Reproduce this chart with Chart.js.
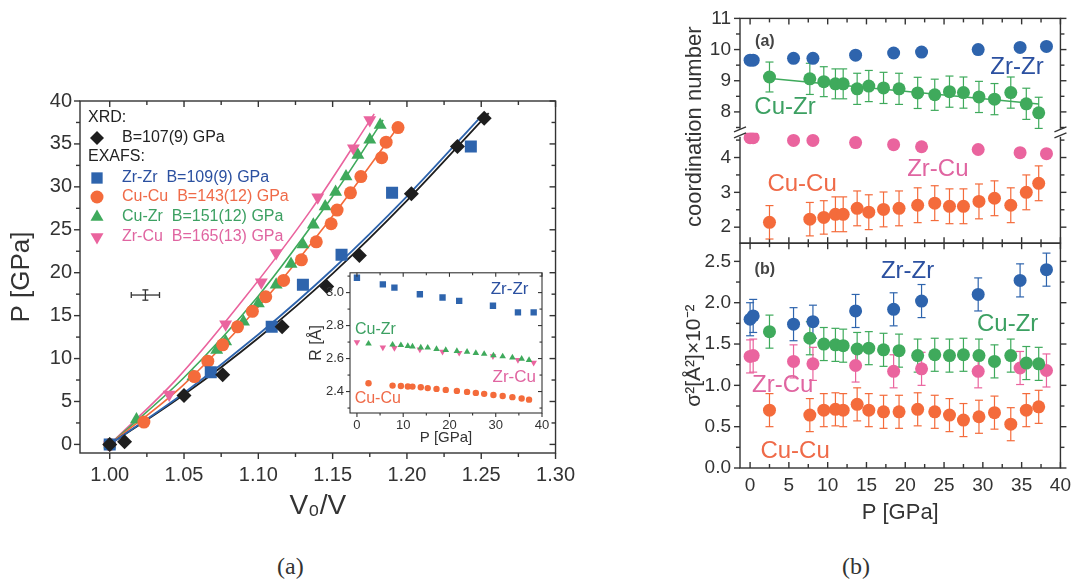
<!DOCTYPE html>
<html>
<head>
<meta charset="utf-8">
<script src="https://cdn.jsdelivr.net/npm/chart.js@4.4.1/dist/chart.umd.min.js"></script>
<style>
  html, body { margin: 0; padding: 0; background: #fff; }
  body { width: 1077px; height: 588px; position: relative; overflow: hidden; }
  canvas { position: absolute; }
  #eos { left: 0; top: 81px; }
  #inset { left: 300px; top: 259px; }
  #coord { left: 630px; top: -2px; }
  .cap { position: absolute; top: 553px; font: 24px "Liberation Serif", "DejaVu Serif", serif; color: #333; }
</style>
</head>
<body>
<canvas id="eos" width="585" height="459"></canvas>
<canvas id="inset" width="260" height="193"></canvas>
<canvas id="coord" width="447" height="542"></canvas>
<div class="cap" style="left:277px">(a)</div>
<div class="cap" style="left:842px">(b)</div>
<script>
// ---- equation of state, V0/V vs P ----
const xrdX  = [1.000, 1.010, 1.050, 1.076, 1.116, 1.146, 1.168, 1.203, 1.234, 1.252];
const xrdP  = [0, 0.3, 5.7, 8.1, 13.7, 18.4, 22.0, 29.2, 34.7, 38.0];
const zrzrX = [1.000, 1.068, 1.109, 1.130, 1.156, 1.190, 1.243];
const zrzrP = [0, 8.4, 13.7, 18.6, 22.1, 29.3, 34.7];
const cucuX = [1.000, 1.023, 1.057, 1.066, 1.076, 1.086, 1.096, 1.105, 1.117, 1.129, 1.139, 1.149, 1.153, 1.162, 1.169, 1.183, 1.186, 1.194];
const cucuP = [0, 2.6, 7.9, 9.7, 11.6, 13.7, 15.5, 17.2, 19.1, 21.5, 23.6, 25.7, 27.3, 29.3, 31.2, 33.4, 35.2, 36.9];
const cuzrX = [1.000, 1.018, 1.056, 1.072, 1.078, 1.090, 1.100, 1.112, 1.122, 1.130, 1.137, 1.145, 1.152, 1.159, 1.167, 1.175, 1.182];
const cuzrP = [0, 2.9, 7.9, 11.0, 12.0, 14.3, 16.4, 18.6, 21.0, 23.3, 25.6, 27.7, 29.4, 31.2, 33.7, 35.5, 37.2];
const zrcuX = [1.000, 1.040, 1.078, 1.102, 1.112, 1.140, 1.164, 1.175];
const zrcuP = [0, 5.8, 14.0, 18.9, 22.3, 28.8, 34.5, 37.8];

// fitted curves
const fitXrdX  = [1.000, 1.050, 1.100, 1.150, 1.200, 1.255];
const fitXrdP  = [0, 5.8, 12.4, 19.9, 28.4, 38.6];
const fitZrZrX = [1.000, 1.050, 1.100, 1.150, 1.200, 1.252];
const fitZrZrP = [0, 6.0, 12.8, 20.4, 28.9, 38.6];
const fitCuCuX = [1.000, 1.050, 1.105, 1.150, 1.195];
const fitCuCuP = [0, 7.0, 17.0, 26.6, 37.2];
const fitCuZrX = [1.000, 1.050, 1.100, 1.150, 1.184];
const fitCuZrP = [0, 7.8, 17.3, 28.9, 37.8];
const fitZrCuX = [1.000, 1.045, 1.090, 1.135, 1.178];
const fitZrCuP = [0, 7.6, 16.9, 27.2, 38.5];

// typical uncertainty cross
const errX = [1.024], errP = [17.4], errDX = [0.0095], errDP = [0.6];

const legendText = ['XRD:', 'B=107(9) GPa', 'EXAFS:', 'Zr-Zr  B=109(9) GPa',
                    'Cu-Cu  B=143(12) GPa', 'Cu-Zr  B=151(12) GPa', 'Zr-Cu  B=165(13) GPa'];

// ---- inset: bond lengths R vs P ----
const inPZr   = [0, 5.6, 8.1, 13.6, 18.5, 22.1, 29.4, 34.8, 38.2];
const inRZrZr = [3.09, 3.05, 3.03, 2.99, 2.97, 2.95, 2.92, 2.88, 2.88];
const inRZrCu = [2.70, 2.667, 2.665, 2.655, 2.642, 2.635, 2.615, 2.592, 2.575];
const inPCu   = [2.5, 7.7, 9.5, 11.0, 12.0, 13.8, 15.3, 17.2, 19.2, 21.6, 23.8, 25.7, 27.5, 29.5, 31.5, 33.6, 35.6, 37.2];
const inRCuZr = [2.69, 2.684, 2.681, 2.676, 2.673, 2.667, 2.666, 2.658, 2.652, 2.646, 2.641, 2.633, 2.628, 2.619, 2.613, 2.606, 2.598, 2.591];
const inRCuCu = [2.45, 2.436, 2.434, 2.431, 2.43, 2.426, 2.421, 2.416, 2.41, 2.404, 2.398, 2.392, 2.386, 2.379, 2.373, 2.366, 2.358, 2.351];

// ---- coordination numbers and sigma^2 vs P ----
const pZr    = [0, 0.4, 5.6, 8.1, 13.6, 18.5, 22.1, 29.4, 34.8, 38.2];
const cnZrZr = [9.66, 9.66, 9.72, 9.72, 9.82, 9.89, 9.92, 10.0, 10.07, 10.1];
const cnZrCu = [4.57, 4.57, 4.49, 4.49, 4.43, 4.37, 4.31, 4.23, 4.14, 4.11];
const pCu    = [2.5, 7.7, 9.5, 11.0, 12.0, 13.8, 15.3, 17.2, 19.2, 21.6, 23.8, 25.7, 27.5, 29.5, 31.5, 33.6, 35.6, 37.2];
const cnCuZr = [9.12, 9.06, 8.97, 8.9, 8.9, 8.74, 8.83, 8.77, 8.74, 8.61, 8.55, 8.65, 8.62, 8.48, 8.41, 8.62, 8.26, 7.97];
const cnCuZrErr = [0.48, 0.5, 0.48, 0.48, 0.48, 0.5, 0.5, 0.5, 0.5, 0.5, 0.5, 0.5, 0.5, 0.5, 0.5, 0.5, 0.5, 0.5];
const cnCuCu = [2.14, 2.23, 2.28, 2.37, 2.37, 2.54, 2.43, 2.51, 2.54, 2.63, 2.69, 2.6, 2.6, 2.74, 2.83, 2.63, 3.0, 3.26];
const cnCuCuErr = [0.48, 0.48, 0.48, 0.5, 0.5, 0.5, 0.5, 0.5, 0.5, 0.5, 0.5, 0.5, 0.5, 0.5, 0.5, 0.5, 0.5, 0.5];
const fitCnP  = [2.3, 37.2];
const fitCnCuZr = [9.08, 8.25];

const s2ZrZr = [1.80, 1.84, 1.74, 1.77, 1.90, 1.92, 2.02, 2.10, 2.27, 2.40];
const s2ZrCu = [1.35, 1.36, 1.29, 1.26, 1.24, 1.17, 1.20, 1.17, 1.21, 1.18];
const s2CuZr = [1.65, 1.57, 1.50, 1.49, 1.48, 1.44, 1.45, 1.43, 1.42, 1.36, 1.37, 1.36, 1.37, 1.36, 1.29, 1.36, 1.27, 1.26];
const s2CuCu = [0.70, 0.64, 0.70, 0.71, 0.70, 0.77, 0.70, 0.68, 0.68, 0.71, 0.68, 0.64, 0.58, 0.62, 0.67, 0.53, 0.70, 0.74];
const s2ErrZr = [0.2, 0.2, 0.2, 0.2, 0.2, 0.2, 0.2, 0.2, 0.2, 0.2];
const s2ErrCu = [0.2, 0.2, 0.2, 0.2, 0.2, 0.2, 0.2, 0.2, 0.2, 0.2, 0.2, 0.2, 0.2, 0.2, 0.2, 0.2, 0.2, 0.2];

Chart.defaults.font.family = '"Liberation Sans", Arial, Helvetica, sans-serif';
Chart.defaults.color = '#333';

const INK = '#333';
const BLUE = '#2e64ad', BLUE_TXT = '#2b50a0';
const ORANGE = '#f46b3b', ORANGE_TXT = '#ef6a48';
const GREEN = '#3faa5c', GREEN_TXT = '#3ca062';
const PINK = '#ea649e', PINK_TXT = '#e065a1';
const BLACK = '#1e1e1e';

function onStep(v, step) { return Math.abs(v / step - Math.round(v / step)) < 1e-6; }
function pts(xs, ys) { return xs.map((x, i) => ({ x: x, y: ys[i] })); }

function axis(o) {
  return {
    type: 'linear', position: o.position, min: o.min, max: o.max,
    stack: o.stack, stackWeight: o.weight,
    grid: { display: false, drawTicks: false },
    border: { display: false },
    ticks: {
      stepSize: o.step, autoSkip: false, includeBounds: false, maxRotation: 0,
      padding: o.pad, color: INK, font: { size: o.font },
      callback: v => onStep(v, o.major) ? v.toFixed(o.dec) : ''
    },
    title: o.title ? { display: true, text: o.title, color: INK, font: { size: o.titleSize }, padding: o.titlePad } : { display: false },
    afterFit: s => { if (s.isHorizontal()) s.height = o.size; else s.width = o.size; }
  };
}

function marks(xs, ys, style, r, color, extra) {
  return Object.assign({ data: pts(xs, ys), pointStyle: style, pointRadius: r, backgroundColor: color,
    borderColor: color, borderWidth: 0, order: 1 }, extra || {});
}
function curve(xs, ys, color, w, extra) {
  return Object.assign({ data: pts(xs, ys), showLine: true, borderColor: color, borderWidth: w, pointRadius: 0,
    tension: 0.35, order: 5 }, extra || {});
}

function seg(ctx, x1, y1, x2, y2) { ctx.beginPath(); ctx.moveTo(x1, y1); ctx.lineTo(x2, y2); ctx.stroke(); }

// white plot background plus a closed frame with ticks on all four sides
const boxFrame = {
  id: 'boxFrame',
  beforeDraw(chart, args, o) {
    if (!o.fill) return;
    const a = chart.chartArea, ctx = chart.ctx;
    ctx.save(); ctx.fillStyle = o.fill; ctx.fillRect(a.left, a.top, a.right - a.left, a.bottom - a.top); ctx.restore();
  },
  afterDraw(chart, args, o) {
    const ctx = chart.ctx, xs = chart.scales.x, L = xs.left, R = xs.right;
    ctx.save();
    ctx.strokeStyle = o.color; ctx.lineWidth = o.width;
    o.boxes.forEach((ids, i) => {
      const T = chart.scales[ids[0]].top, B = chart.scales[ids[ids.length - 1]].bottom;
      ctx.strokeRect(L, T, R - L, B - T);
      const last = i === o.boxes.length - 1;
      xs.ticks.forEach(t => {
        const px = xs.getPixelForValue(t.value), len = t.label !== '' ? o.major : o.minor;
        seg(ctx, px, T, px, T + len);
        seg(ctx, px, B, px, (last && o.bottomOut) ? B + len : B - len);
      });
      ids.forEach(id => {
        const s = chart.scales[id];
        s.ticks.forEach(t => {
          const py = s.getPixelForValue(t.value), len = t.label !== '' ? o.major : o.minor;
          seg(ctx, L, py, o.leftOut ? L - len : L + len, py);
          seg(ctx, R, py, o.rightOut ? R + len : R - len, py);
        });
      });
    });
    ctx.restore();
  }
};

// vertical / horizontal error bars taken from dataset.yErr / dataset.xErr
const errorBars = {
  id: 'errorBars',
  beforeDatasetsDraw(chart) {
    const ctx = chart.ctx;
    chart.data.datasets.forEach((ds, i) => {
      if (!ds.yErr && !ds.xErr) return;
      const meta = chart.getDatasetMeta(i);
      const xs = chart.scales[meta.xAxisID], ys = chart.scales[meta.yAxisID];
      const cap = ds.errCap || 4;
      ctx.save();
      ctx.strokeStyle = ds.errColor || ds.borderColor; ctx.lineWidth = ds.errWidth || 1.2;
      ds.data.forEach((p, j) => {
        const px = xs.getPixelForValue(p.x), py = ys.getPixelForValue(p.y);
        if (ds.yErr) {
          const a = ys.getPixelForValue(p.y + ds.yErr[j]), b = ys.getPixelForValue(p.y - ds.yErr[j]);
          seg(ctx, px, a, px, b); seg(ctx, px - cap, a, px + cap, a); seg(ctx, px - cap, b, px + cap, b);
        }
        if (ds.xErr) {
          const a = xs.getPixelForValue(p.x - ds.xErr[j]), b = xs.getPixelForValue(p.x + ds.xErr[j]);
          seg(ctx, a, py, b, py); seg(ctx, a, py - cap, a, py + cap); seg(ctx, b, py - cap, b, py + cap);
        }
      });
      ctx.restore();
    });
  }
};

// series names written next to the data, placed in data coordinates
const textMarks = {
  id: 'textMarks',
  afterDraw(chart, args, o) {
    const ctx = chart.ctx;
    ctx.save();
    ctx.textAlign = 'center'; ctx.textBaseline = 'middle';
    (o.items || []).forEach(it => {
      const px = chart.scales[it.xAxis || 'x'].getPixelForValue(it.x);
      const py = chart.scales[it.yAxis || 'y'].getPixelForValue(it.y);
      ctx.font = (it.bold ? 'bold ' : '') + it.size + 'px ' + Chart.defaults.font.family;
      ctx.fillStyle = it.color;
      ctx.fillText(it.text, px, py);
    });
    ctx.restore();
  }
};

// legend of the V0/V panel, with XRD / EXAFS headings
const eosLegend = {
  id: 'eosLegend',
  afterDraw(chart, args, o) {
    if (!o.rows) return;
    const ctx = chart.ctx, a = chart.chartArea;
    ctx.save();
    ctx.textBaseline = 'middle'; ctx.textAlign = 'left';
    ctx.font = '16px ' + Chart.defaults.font.family;
    o.rows.forEach(r => {
      const y = a.top + r.dy;
      if (r.style) {
        ctx.fillStyle = r.color;
        Chart.helpers.drawPoint(ctx, { pointStyle: r.style, rotation: r.rot || 0, radius: r.r, borderWidth: 0 }, a.left + 17, y);
        ctx.fillStyle = r.tcolor;
        ctx.fillText(r.text, a.left + 42, y);
      } else {
        ctx.fillStyle = '#222';
        ctx.fillText(r.text, a.left + 8, y);
      }
    });
    ctx.restore();
  }
};

// axis break marks and the shared rotated titles of the right-hand panel
const axisBreak = {
  id: 'axisBreak',
  afterDraw(chart, args, o) {
    if (!o.above) return;
    const ctx = chart.ctx, y = chart.scales[o.above].bottom, xs = chart.scales.x;
    ctx.save();
    [xs.left, xs.right].forEach(x => {
      ctx.fillStyle = '#fff'; ctx.fillRect(x - 2, y - 4, 4, 8);
      ctx.strokeStyle = INK; ctx.lineWidth = 1.3;
      seg(ctx, x - 6, y - 1, x + 6, y - 6);
      seg(ctx, x - 6, y + 5, x + 6, y);
    });
    ctx.restore();
  }
};
const sideTitles = {
  id: 'sideTitles',
  afterDraw(chart, args, o) {
    if (!o.items) return;
    const ctx = chart.ctx;
    o.items.forEach(it => {
      const top = chart.scales[it.from].top, bottom = chart.scales[it.to].bottom;
      ctx.save();
      ctx.translate(chart.chartArea.left - it.dx, (top + bottom) / 2 + (it.dy || 0));
      ctx.rotate(-Math.PI / 2);
      ctx.font = it.size + 'px ' + Chart.defaults.font.family;
      ctx.fillStyle = INK; ctx.textAlign = 'center'; ctx.textBaseline = 'middle';
      ctx.fillText(it.text, 0, 0);
      ctx.restore();
    });
  }
};

const common = { responsive: false, animation: false, devicePixelRatio: 1, events: [] };

// left panel: P against V0/V
new Chart(document.getElementById('eos'), {
  type: 'scatter',
  data: {
    datasets: [
      curve(fitZrZrX, fitZrZrP, BLUE, 1.8),
      curve(fitXrdX, fitXrdP, BLACK, 1.8),
      curve(fitCuCuX, fitCuCuP, ORANGE, 1.6),
      curve(fitCuZrX, fitCuZrP, GREEN, 1.6),
      curve(fitZrCuX, fitZrCuP, PINK, 1.6),
      marks(zrzrX, zrzrP, 'rect', 8.5, BLUE),
      marks(cucuX, cucuP, 'circle', 6.5, ORANGE),
      marks(cuzrX, cuzrP, 'triangle', 7.5, GREEN),
      marks(zrcuX, zrcuP, 'triangle', 7.5, PINK, { pointRotation: 180 }),
      marks(xrdX, xrdP, 'rectRot', 7.5, BLACK, { order: 0 }),
      { data: pts(errX, errP), pointRadius: 0, xErr: errDX, yErr: errDP, errColor: INK, errCap: 3, errWidth: 1.3, borderColor: INK }
    ]
  },
  options: Object.assign({}, common, {
    layout: { padding: { top: 0, right: 27, left: 0, bottom: 0 } },
    plugins: {
      legend: { display: false }, tooltip: { enabled: false },
      boxFrame: { boxes: [['y']], color: INK, width: 1.4, major: 6, minor: 4, leftOut: true, bottomOut: true, rightOut: false },
      eosLegend: { rows: [
        { dy: 17, text: legendText[0] },
        { dy: 37, style: 'rectRot', r: 7, color: BLACK, text: legendText[1], tcolor: '#222' },
        { dy: 56, text: legendText[2] },
        { dy: 77, style: 'rect', r: 8, color: BLUE, text: legendText[3], tcolor: BLUE_TXT },
        { dy: 96, style: 'circle', r: 6.5, color: ORANGE, text: legendText[4], tcolor: ORANGE_TXT },
        { dy: 116, style: 'triangle', r: 7.5, color: GREEN, text: legendText[5], tcolor: GREEN_TXT },
        { dy: 136, style: 'triangle', rot: 180, r: 7.5, color: PINK, text: legendText[6], tcolor: PINK_TXT }
      ] }
    },
    scales: {
      x: axis({ position: 'bottom', min: 0.98, max: 1.30, step: 0.025, major: 0.05, dec: 2, pad: 10, font: 20,
                title: 'V\u2080/V', titleSize: 28, titlePad: { top: 0, bottom: 17 }, size: 87 }),
      y: axis({ position: 'left', min: -1, max: 40, step: 2.5, major: 5, dec: 0, pad: 8, font: 20,
                title: 'P [GPa]', titleSize: 26, titlePad: { top: 6, bottom: 0 }, size: 80 })
    }
  }),
  plugins: [errorBars, boxFrame, eosLegend]
});

// inset: nearest-neighbour distances
new Chart(document.getElementById('inset'), {
  type: 'scatter',
  data: {
    datasets: [
      marks(inPZr, inRZrZr, 'rect', 4.5, BLUE),
      marks(inPCu, inRCuZr, 'triangle', 3.8, GREEN),
      marks(inPZr, inRZrCu, 'triangle', 3.8, PINK, { pointRotation: 180 }),
      marks(inPCu, inRCuCu, 'circle', 3.2, ORANGE)
    ]
  },
  options: Object.assign({}, common, {
    layout: { padding: { top: 0, right: 18, left: 0, bottom: 0 } },
    plugins: {
      legend: { display: false }, tooltip: { enabled: false },
      boxFrame: { boxes: [['y']], fill: '#fff', color: INK, width: 1.1, major: 4, minor: 2.5, leftOut: true, bottomOut: true, rightOut: false },
      textMarks: { items: [
        { x: 33, y: 3.02, text: 'Zr-Zr', color: BLUE_TXT, size: 17 },
        { x: 4.0, y: 2.775, text: 'Cu-Zr', color: GREEN_TXT, size: 16 },
        { x: 34, y: 2.485, text: 'Zr-Cu', color: PINK_TXT, size: 17 },
        { x: 4.5, y: 2.36, text: 'Cu-Cu', color: ORANGE_TXT, size: 16 }
      ] }
    },
    scales: {
      x: axis({ position: 'bottom', min: -1.5, max: 40, step: 5, major: 10, dec: 0, pad: 5, font: 13,
                title: 'P [GPa]', titleSize: 15, titlePad: { top: 0, bottom: 5 }, size: 39 }),
      y: axis({ position: 'left', min: 2.27, max: 3.12, step: 0.1, major: 0.2, dec: 1, pad: 6, font: 13,
                title: 'R [\u00c5]', titleSize: 16, titlePad: { top: 7, bottom: 0 }, size: 50 })
    }
  }),
  plugins: [boxFrame, textMarks]
});

// right panel: coordination numbers (top) and sigma^2 (bottom) sharing the pressure axis
const cnDot = 6.5;
new Chart(document.getElementById('coord'), {
  type: 'scatter',
  data: {
    datasets: [
      curve(fitCnP, fitCnCuZr, GREEN, 1.5, { yAxisID: 'yTop', tension: 0 }),
      marks(pZr, cnZrZr, 'circle', cnDot, BLUE, { yAxisID: 'yTop' }),
      marks(pCu, cnCuZr, 'circle', cnDot, GREEN, { yAxisID: 'yTop', yErr: cnCuZrErr }),
      marks(pZr, cnZrCu, 'circle', cnDot, PINK, { yAxisID: 'yMid' }),
      marks(pCu, cnCuCu, 'circle', cnDot, ORANGE, { yAxisID: 'yMid', yErr: cnCuCuErr }),
      marks(pCu, s2CuZr, 'circle', cnDot, GREEN, { yAxisID: 'ySig', yErr: s2ErrCu }),
      marks(pZr, s2ZrCu, 'circle', cnDot, PINK, { yAxisID: 'ySig', yErr: s2ErrZr }),
      marks(pZr, s2ZrZr, 'circle', cnDot, BLUE, { yAxisID: 'ySig', yErr: s2ErrZr }),
      marks(pCu, s2CuCu, 'circle', cnDot, ORANGE, { yAxisID: 'ySig', yErr: s2ErrCu })
    ]
  },
  options: Object.assign({}, common, {
    layout: { padding: { top: 0, right: 15, left: 0, bottom: 0 } },
    plugins: {
      legend: { display: false }, tooltip: { enabled: false },
      boxFrame: { boxes: [['yTop', 'yMid'], ['ySig']], color: INK, width: 1.4, major: 6, minor: 4, leftOut: true, bottomOut: false, rightOut: true },
      axisBreak: { above: 'yTop' },
      sideTitles: { items: [
        { from: 'yTop', to: 'yMid', dx: 45, dy: -4, size: 22, text: 'coordination number' },
        { from: 'ySig', to: 'ySig', dx: 46, dy: 0, size: 21, text: '\u03c3\u00b2[\u00c5\u00b2]\u00d710\u207b\u00b2' }
      ] },
      textMarks: { items: [
        { x: 1.9, y: 10.24, yAxis: 'yTop', text: '(a)', color: '#444', size: 16, bold: true },
        { x: 34.4, y: 9.44, yAxis: 'yTop', text: 'Zr-Zr', color: BLUE_TXT, size: 24 },
        { x: 4.5, y: 8.13, yAxis: 'yTop', text: 'Cu-Zr', color: GREEN_TXT, size: 24 },
        { x: 24.2, y: 3.66, yAxis: 'yMid', text: 'Zr-Cu', color: PINK_TXT, size: 24 },
        { x: 6.7, y: 3.23, yAxis: 'yMid', text: 'Cu-Cu', color: ORANGE_TXT, size: 24 },
        { x: 1.9, y: 2.40, yAxis: 'ySig', text: '(b)', color: '#444', size: 16, bold: true },
        { x: 20.3, y: 2.38, yAxis: 'ySig', text: 'Zr-Zr', color: BLUE_TXT, size: 24 },
        { x: 33.2, y: 1.74, yAxis: 'ySig', text: 'Cu-Zr', color: GREEN_TXT, size: 24 },
        { x: 4.2, y: 1.0, yAxis: 'ySig', text: 'Zr-Cu', color: PINK_TXT, size: 24 },
        { x: 5.8, y: 0.2, yAxis: 'ySig', text: 'Cu-Cu', color: ORANGE_TXT, size: 24 }
      ] }
    },
    scales: {
      x: axis({ position: 'bottom', min: -1.3, max: 40, step: 2.5, major: 5, dec: 0, pad: 6, font: 19,
                title: 'P [GPa]', titleSize: 22, titlePad: { top: 0, bottom: 14 }, size: 72 }),
      ySig: axis({ position: 'left', stack: 'b', weight: 226, min: 0, max: 2.72, step: 0.25, major: 0.5, dec: 1, pad: 9, font: 19, size: 110 }),
      yMid: axis({ position: 'left', stack: 'b', weight: 111, min: 1.54, max: 4.71, step: 0.5, major: 1, dec: 0, pad: 9, font: 19, size: 110 }),
      yTop: axis({ position: 'left', stack: 'b', weight: 115, min: 7.33, max: 11, step: 0.5, major: 1, dec: 0, pad: 9, font: 19, size: 110 })
    }
  }),
  plugins: [errorBars, boxFrame, axisBreak, sideTitles, textMarks]
});
</script>
</body>
</html>
